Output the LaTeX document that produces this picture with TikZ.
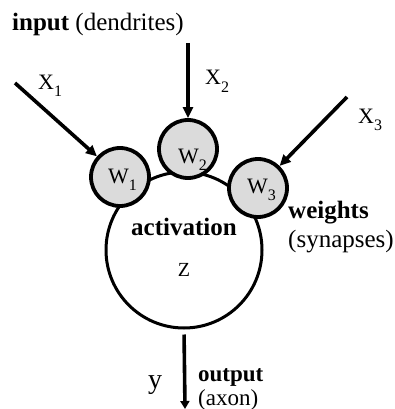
\documentclass[tikz,border=0pt]{standalone}
\usepackage{fontspec}
\setmainfont{Liberation Serif}
\usetikzlibrary{arrows.meta}
\tikzset{
  x=1pt, y=-1pt,
  body/.style={circle, draw, line width=3pt, fill=white, minimum size=156pt, inner sep=0pt},
  weight/.style={circle, draw, line width=3.8pt, fill=gray!28, minimum size=58pt, inner sep=0pt},
  inarrow/.style={line width=3.6pt, -{Triangle[length=11pt,width=10pt]}},
  txt/.style={anchor=base west, inner sep=0pt, font=\fontsize{25}{25}\selectfont},
  small/.style={anchor=base west, inner sep=0pt, font=\fontsize{23}{23}\selectfont},
  sym/.style={anchor=base west, inner sep=0pt, font=\fontsize{22}{22}\selectfont},
}
\newcommand{\subs}[1]{\raisebox{-7pt}{\fontsize{16}{16}\selectfont #1}}
\begin{document}
\begin{tikzpicture}
\useasboundingbox (0,0) rectangle (394,409);
% body
\node[body] (body) at (184,250) {};
% weights
\node[weight] (w1) at (120,177) {};
\node[weight] (w2) at (188,149) {};
\node[weight] (w3) at (258,188) {};
\node[sym] (w1t) at (108,183) {W\subs{1}};
\node[sym] (w2t) at (178,163) {W\subs{2}};
\node[sym] (w3t) at (247,193) {W\subs{3}};
% inputs
\coordinate (s1) at (15,83);
\coordinate (s2) at (188,43);
\coordinate (s3) at (347,97);
\draw[inarrow] (s1) -- (w1);
\draw[inarrow] (s2) -- (w2);
\draw[inarrow] (s3) -- (w3);
\node[sym] (x1) at (38,90) {X\subs{1}};
\node[sym] (x2) at (205,85) {X\subs{2}};
\node[sym] (x3) at (358,123) {X\subs{3}};
% output
\coordinate (yend) at (185,409);
\draw[line width=3.6pt, shorten <=5pt, -{Triangle[length=8pt,width=9pt]}] (body.south) -- (yend);
% labels
\node[txt] (inlab) at (12,31) {\textbf{input} (dendrites)};
\node[txt, anchor=base] (act) at (184,235) {\textbf{activation}};
\node[anchor=base, inner sep=0pt, font=\fontsize{20}{20}\selectfont] (z) at (184,276) {Z};
\node[txt] (wlab) at (288,218) {\textbf{weights}};
\node[txt] (slab) at (288,247) {(synapses)};
\node[small] (olab) at (198,381) {\textbf{output}};
\node[small] (alab) at (198,405) {(axon)};
\node[anchor=base west, inner sep=0pt, font=\fontsize{28}{28}\selectfont] (y) at (148,388) {y};
\end{tikzpicture}
\end{document}
